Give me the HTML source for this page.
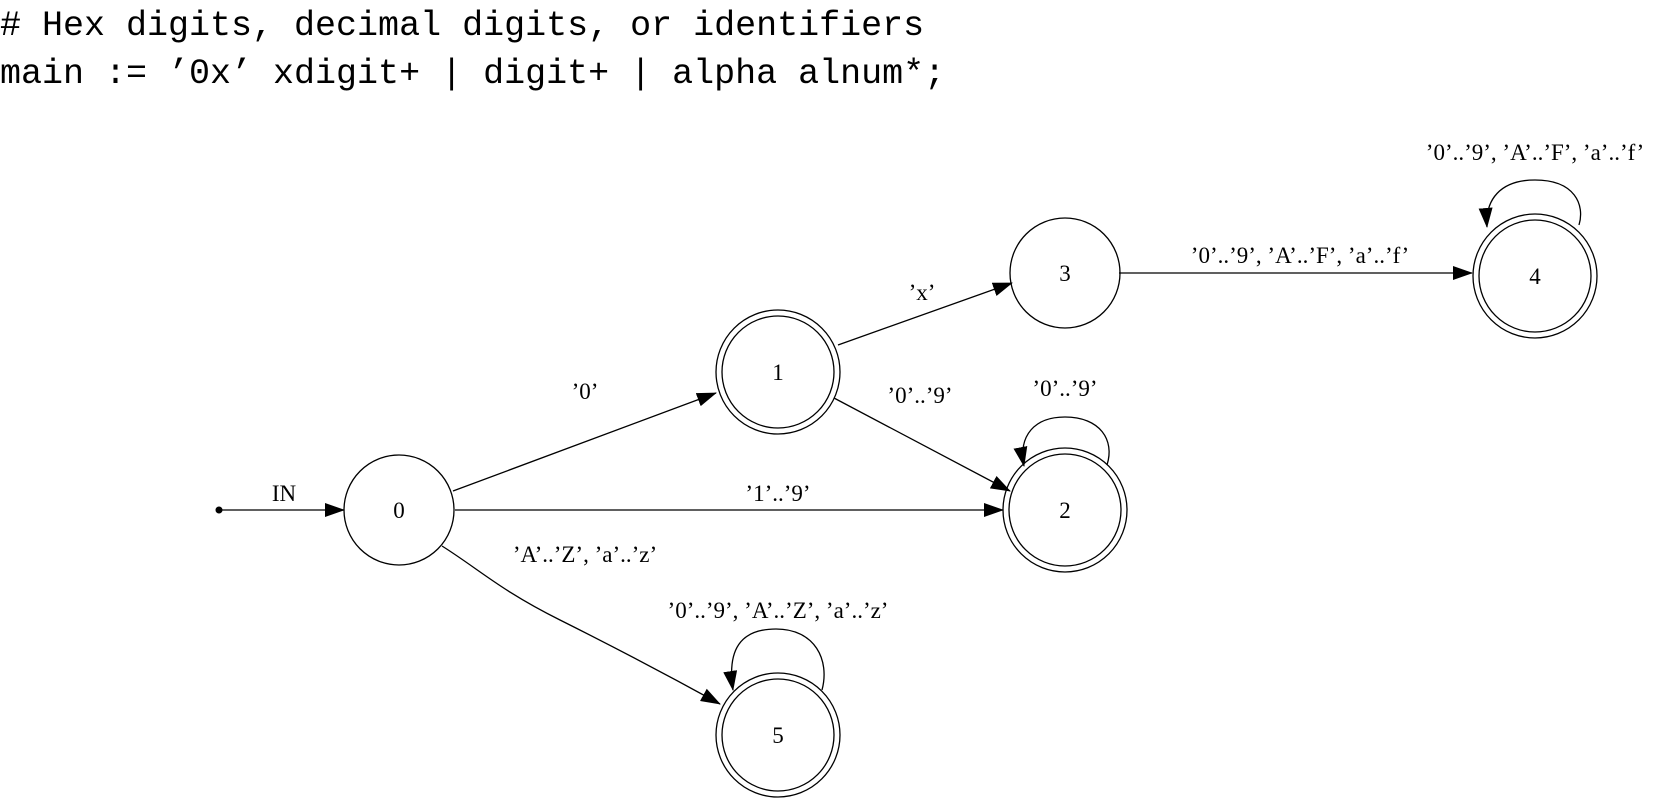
<!DOCTYPE html>
<html><head><style>html,body{margin:0;padding:0;background:#fff;}svg{display:block}</style></head>
<body>
<svg width="1678" height="802" viewBox="0 0 1678 802" xmlns="http://www.w3.org/2000/svg">
<defs><marker id="a" markerWidth="20" markerHeight="14" refX="19" refY="7" orient="auto" markerUnits="userSpaceOnUse"><path d="M0,0 L20,7 L0,14 z" fill="#000"/></marker></defs>
<g font-family="Liberation Mono, monospace" font-size="35" fill="#000">
<text x="0" y="35">&#35; Hex digits, decimal digits, or identifiers</text>
<text x="0" y="83">main := ’0x’ xdigit+ | digit+ | alpha alnum*;</text>
</g>
<g fill="none" stroke="#000" stroke-width="1.3">
<circle cx="399" cy="510" r="55"/>
<circle cx="778" cy="372" r="62"/><circle cx="778" cy="372" r="56"/>
<circle cx="1065" cy="510" r="62"/><circle cx="1065" cy="510" r="56"/>
<circle cx="1065" cy="273" r="55"/>
<circle cx="1535" cy="276" r="62"/><circle cx="1535" cy="276" r="56"/>
<circle cx="778" cy="735" r="62"/><circle cx="778" cy="735" r="56"/>
<line x1="219" y1="510" x2="344" y2="510" marker-end="url(#a)"/>
<line x1="453" y1="491" x2="716" y2="393" marker-end="url(#a)"/>
<line x1="838" y1="345" x2="1012" y2="283" marker-end="url(#a)"/>
<line x1="834" y1="398" x2="1010" y2="491" marker-end="url(#a)"/>
<line x1="455" y1="510" x2="1003" y2="510" marker-end="url(#a)"/>
<line x1="1119" y1="273" x2="1472" y2="273" marker-end="url(#a)"/>
<path d="M442,546 C480,570 500,590 560,620 C640,660 700,693 720,704" marker-end="url(#a)"/>
<path d="M1107,465 C1115,440 1100,417 1065,417 C1035,417 1018,435 1024,466" marker-end="url(#a)"/>
<path d="M1579,225 C1585,205 1575,180 1535,180 C1500,180 1485,200 1487,227" marker-end="url(#a)"/>
<path d="M822,690 C830,660 815,629 776,629 C740,629 727,650 733,690" marker-end="url(#a)"/>
</g>
<circle cx="219" cy="510" r="3.5" fill="#000"/>
<g font-family="Liberation Serif, serif" font-size="23" fill="#000" text-anchor="middle">
<text x="399" y="518">0</text><text x="778" y="380">1</text><text x="1065" y="518">2</text>
<text x="1065" y="281">3</text><text x="1535" y="284">4</text><text x="778" y="743">5</text>
<text x="284" y="501">IN</text>
<text x="585" y="399">’0’</text>
<text x="922" y="300">’x’</text>
<text x="920" y="403">’0’..’9’</text>
<text x="778" y="501">’1’..’9’</text>
<text x="1065" y="396">’0’..’9’</text>
<text x="1300" y="263">’0’..’9’, ’A’..’F’, ’a’..’f’</text>
<text x="1535" y="160">’0’..’9’, ’A’..’F’, ’a’..’f’</text>
<text x="585" y="562">’A’..’Z’, ’a’..’z’</text>
<text x="778" y="618">’0’..’9’, ’A’..’Z’, ’a’..’z’</text>
</g>
</svg>
</body></html>
